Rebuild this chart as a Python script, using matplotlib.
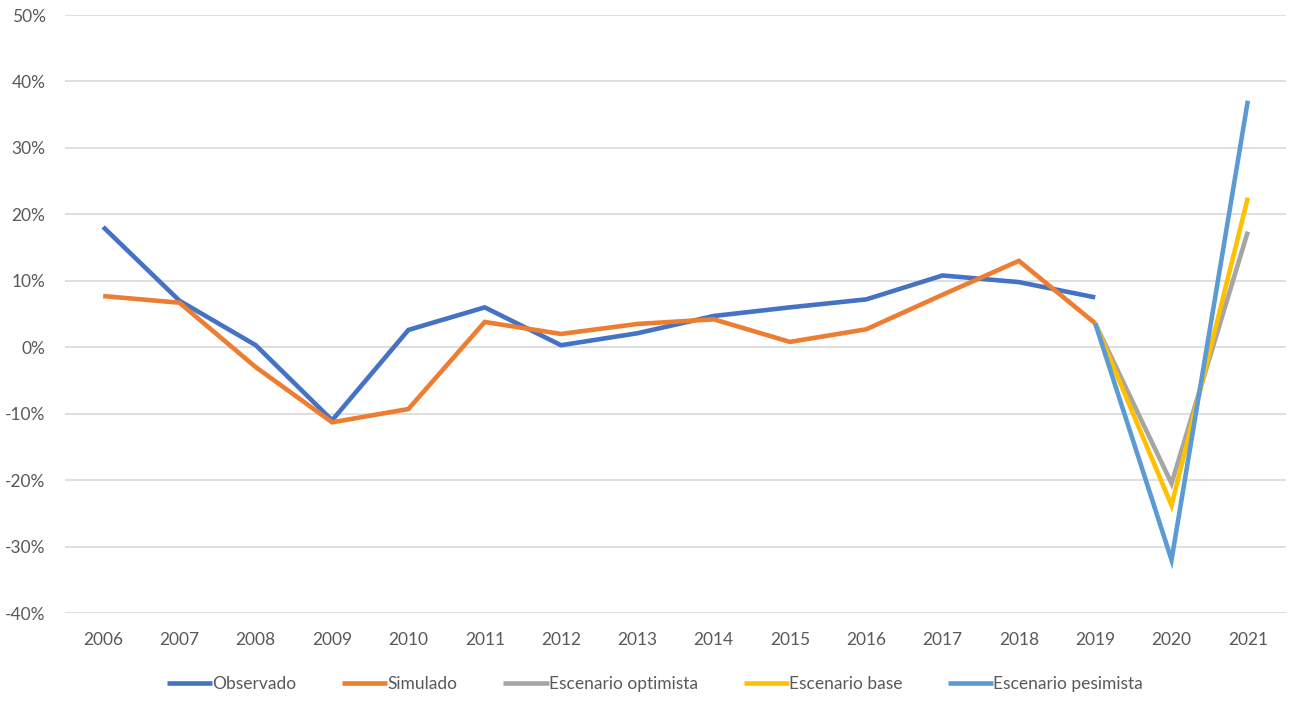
import matplotlib.pyplot as plt
from matplotlib.ticker import FuncFormatter

plt.rcParams['font.family'] = ['Lato', 'DejaVu Sans']

years = [str(y) for y in range(2006, 2022)]

# growth rates in %, None = no value
observado = [18.1, 7.0, 0.3, -11.0, 2.6, 6.0, 0.3, 2.1, 4.7, 6.0, 7.2, 10.8, 9.8, 7.5, None, None]
simulado = [7.7, 6.7, -3.0, -11.3, -9.3, 3.8, 2.0, 3.5, 4.2, 0.8, 2.7, 7.9, 13.0, 3.6, None, None]
optimista = [None] * 13 + [3.6, -20.5, 17.4]
base = [None] * 13 + [3.6, -23.8, 22.5]
pesimista = [None] * 13 + [3.6, -32.0, 37.1]

series = [
    ("Observado", observado, "#4472C4"),
    ("Simulado", simulado, "#ED7D31"),
    ("Escenario optimista", optimista, "#A5A5A5"),
    ("Escenario base", base, "#FFC000"),
    ("Escenario pesimista", pesimista, "#5B9BD5"),
]

fig = plt.figure(figsize=(13, 7.08), dpi=100)
ax = fig.add_axes([65 / 1300, 1 - 613 / 708, 1221 / 1300, 598 / 708])

x = list(range(len(years)))
for name, vals, col in series:
    xs = [i for i, v in zip(x, vals) if v is not None]
    ys = [v for v in vals if v is not None]
    ax.plot(xs, ys, color=col, lw=3.3, label=name, solid_joinstyle='miter', solid_capstyle='butt')

ax.set_xlim(-0.5, len(years) - 0.5)
ax.set_ylim(-40, 50)
ax.set_yticks(range(-40, 51, 10))
ax.yaxis.set_major_formatter(FuncFormatter(lambda v, p: "%d%%" % v))
ax.set_xticks(x)
ax.set_xticklabels(years)
ax.grid(axis='y', color='#d9d9d9', lw=1.2)
ax.set_axisbelow(True)
for s in ax.spines.values():
    s.set_visible(False)
ax.tick_params(length=0, labelsize=12.5, colors='#595959')
ax.tick_params(axis='y', pad=14)
ax.tick_params(axis='x', pad=14)

leg = fig.legend(loc='center', bbox_to_anchor=(655 / 1300, 1 - 684 / 708), ncol=5, frameon=False,
                 fontsize=12.5, handlelength=2.6, handletextpad=0.0, columnspacing=2.65)
for t in leg.get_texts():
    t.set_color('#595959')

fig.savefig("out.png", dpi=100)
